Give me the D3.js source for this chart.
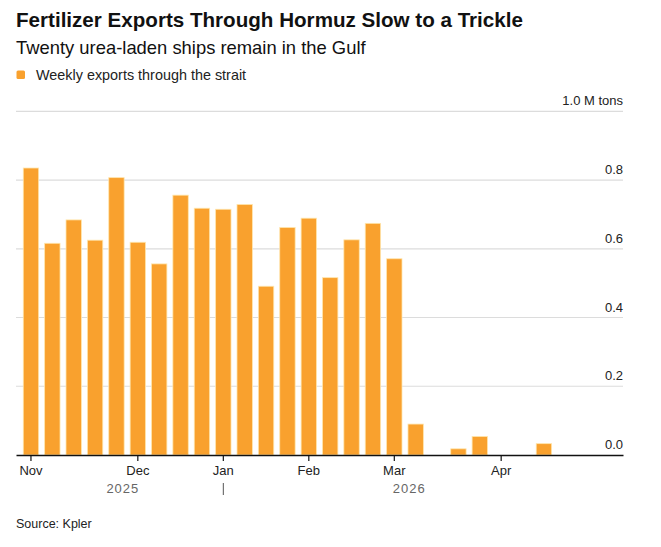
<!DOCTYPE html>
<html lang="en">
<head>
<meta charset="UTF-8">
<title>Fertilizer Exports Through Hormuz</title>
<script src="https://d3js.org/d3.v7.min.js"></script>
<style>
  body { margin: 0; background: #fff; }
  text { font-family: "Liberation Sans", Arial, sans-serif; }
</style>
</head>
<body>
<div id="chart"></div>
<script>
// Weekly buckets (week starting)
const weeks = [
  "2025-10-27", "2025-11-03", "2025-11-10", "2025-11-17", "2025-11-24",
  "2025-12-01", "2025-12-08", "2025-12-15", "2025-12-22", "2025-12-29",
  "2026-01-05", "2026-01-12", "2026-01-19", "2026-01-26", "2026-02-02",
  "2026-02-09", "2026-02-16", "2026-02-23", "2026-03-02", "2026-03-09",
  "2026-03-16", "2026-03-23", "2026-03-30", "2026-04-06", "2026-04-13",
  "2026-04-20", "2026-04-27", "2026-05-04"
];
// Million tons per week
const exportsMt = [
  0.835, 0.616, 0.684, 0.625, 0.807,
  0.619, 0.556, 0.756, 0.718, 0.715,
  0.729, 0.491, 0.662, 0.689, 0.516,
  0.626, 0.674, 0.571, 0.090, 0,
  0.018, 0.054, 0, 0, 0.033,
  null, null, null
];
const monthTickWeeks = ["2025-10-27", "2025-12-01", "2025-12-29", "2026-01-26", "2026-02-23", "2026-03-30"];
const monthTickLabels = ["Nov", "Dec", "Jan", "Feb", "Mar", "Apr"];
const yTicks = [0, 0.2, 0.4, 0.6, 0.8, 1.0];
const yearLabels = ["2025", "2026"];

const width = 661, height = 547;
const left = 16, right = 623, baseY = 455, topY = 111.3;
const orange = "#f9a12e";

const svg = d3.select("#chart").append("svg")
  .attr("width", width)
  .attr("height", height);

// titles
svg.append("text").attr("x", 16).attr("y", 27)
  .attr("font-size", 20.6).attr("font-weight", "bold").attr("fill", "#111")
  .text("Fertilizer Exports Through Hormuz Slow to a Trickle");
svg.append("text").attr("x", 16).attr("y", 53.5)
  .attr("font-size", 18.4).attr("fill", "#111")
  .text("Twenty urea-laden ships remain in the Gulf");

// legend
svg.append("rect").attr("x", 16.5).attr("y", 70.5).attr("width", 8.5).attr("height", 8.5)
  .attr("rx", 1.5).attr("fill", orange);
svg.append("text").attr("x", 36).attr("y", 79.5)
  .attr("font-size", 14.4).attr("fill", "#222")
  .text("Weekly exports through the strait");

// scales
const x = d3.scaleBand()
  .domain(weeks)
  .range([left, right])
  .paddingInner(0.28)
  .paddingOuter(0.34);

const y = d3.scaleLinear()
  .domain([0, 1])
  .range([baseY, topY]);

// gridlines + labels on right
const grid = svg.append("g");
grid.selectAll("line")
  .data(yTicks.filter(d => d > 0))
  .join("line")
  .attr("x1", left).attr("x2", right)
  .attr("y1", d => y(d)).attr("y2", d => y(d))
  .attr("stroke", "#dcdcdc").attr("stroke-width", 1.2);
grid.selectAll("text")
  .data(yTicks)
  .join("text")
  .attr("x", right).attr("y", d => y(d) - 6)
  .attr("text-anchor", "end")
  .attr("font-size", 13).attr("fill", "#222")
  .text(d => d === 1 ? "1.0 M tons" : d3.format(".1f")(d));

// bars
svg.append("g").selectAll("rect")
  .data(weeks.map((w, i) => ({ week: w, value: exportsMt[i] })).filter(d => d.value > 0))
  .join("rect")
  .attr("x", d => x(d.week))
  .attr("y", d => y(d.value))
  .attr("width", x.bandwidth())
  .attr("height", d => baseY - y(d.value))
  .attr("fill", orange)
  .attr("stroke", "#ffe6ad")
  .attr("stroke-width", 0.8);

// x axis
const xAxis = d3.axisBottom(x)
  .tickValues(monthTickWeeks)
  .tickFormat((d, i) => monthTickLabels[i])
  .tickSize(6)
  .tickPadding(5)
  .tickSizeOuter(0);

const ax = svg.append("g")
  .attr("transform", `translate(0,${baseY})`)
  .call(xAxis);
ax.select(".domain").attr("stroke", "#111").attr("stroke-width", 1.5);
ax.selectAll(".tick line").attr("stroke", "#111").attr("stroke-width", 1.2);
ax.selectAll(".tick text")
  .attr("font-size", 13)
  .attr("font-family", "Liberation Sans, Arial, sans-serif")
  .attr("fill", "#222");

// year row
const center = w => x(w) + x.bandwidth() / 2;
const step = x.step();
const yearX = [center(weeks[4]) + 0.3 * step, center(weeks[17]) + 0.7 * step];
svg.append("g").selectAll("text")
  .data(yearLabels)
  .join("text")
  .attr("x", (d, i) => yearX[i])
  .attr("y", 493)
  .attr("text-anchor", "middle")
  .attr("font-size", 13)
  .attr("letter-spacing", 1)
  .attr("fill", "#666")
  .text(d => d);
svg.append("line")
  .attr("x1", center("2025-12-29")).attr("x2", center("2025-12-29"))
  .attr("y1", 483).attr("y2", 495)
  .attr("stroke", "#555").attr("stroke-width", 1);

// source
svg.append("text").attr("x", 16).attr("y", 528)
  .attr("font-size", 12.5).attr("fill", "#222")
  .text("Source: Kpler");
</script>
</body>
</html>
